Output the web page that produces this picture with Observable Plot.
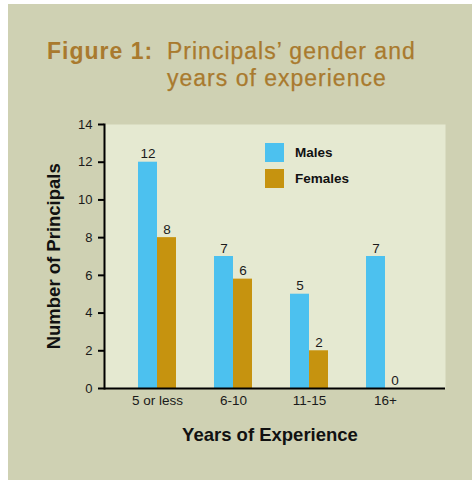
<!DOCTYPE html>
<html>
<head>
<meta charset="utf-8">
<script src="https://cdn.jsdelivr.net/npm/d3@7"></script>
<script src="https://cdn.jsdelivr.net/npm/@observablehq/plot@0.6"></script>
<style>
  body { margin: 0; background: #ffffff; font-family: "Liberation Sans", Arial, Helvetica, sans-serif; }
  #wrap { position: relative; width: 472px; height: 480px; overflow: hidden; }
  #bg { position: absolute; left: 8px; top: 4px; width: 464px; height: 476px; background: #cfd1b3; }
  #chart { position: absolute; left: 0; top: 0; }
  .title { position: absolute; top: 37.5px; font-size: 23px; line-height: 27px; color: #a97a2e; letter-spacing: 1px; white-space: nowrap; }
  #t1 { left: 47px; font-weight: bold; }
  #t2 { left: 167px; -webkit-text-stroke: 0.25px #a97a2e; }
  .axtitle { position: absolute; font-size: 18.5px; line-height: 18.5px; font-weight: bold; color: #111; text-align: center; width: 300px; white-space: nowrap; }
  #ytitle { left: -96px; top: 246.75px; transform: rotate(-90deg); transform-origin: 150px 9.25px; }
  #xtitle { left: 120px; top: 425.5px; }
  .sw { position: absolute; left: 265px; width: 19px; height: 19px; }
  .lg { position: absolute; left: 295px; font-size: 13.5px; line-height: 13.5px; font-weight: bold; color: #111; white-space: nowrap; }
</style>
</head>
<body>
<div id="wrap">
  <div id="bg"></div>
  <div id="chart"></div>
  <div class="title" id="t1">Figure 1:</div>
  <div class="title" id="t2">Principals’ gender and<br>years of experience</div>
  <div class="axtitle" id="ytitle">Number of Principals</div>
  <div class="axtitle" id="xtitle">Years of Experience</div>
  <div id="legend"></div>
</div>
<script>
const categories = ["5 or less", "6-10", "11-15", "16+"];
const seriesNames = ["Males", "Females"];
const seriesColors = ["#4cc1ef", "#c6930f"];
const males = [12, 7, 5, 7];
const females = [8, 5.8, 2, 0];
const maleLabels = ["12", "7", "5", "7"];
const femaleLabels = ["8", "6", "2", "0"];
const yTicks = [0, 2, 4, 6, 8, 10, 12, 14];

const maleRows = categories.map((c, i) => ({category: c, series: "Males", value: males[i], label: maleLabels[i]}));
const femaleRows = categories.map((c, i) => ({category: c, series: "Females", value: females[i], label: femaleLabels[i]}));

const chart = Plot.plot({
  width: 472,
  height: 480,
  marginLeft: 104,
  marginRight: 27,
  marginTop: 124,
  marginBottom: 92,
  style: {background: "transparent", fontFamily: "'Liberation Sans', Arial, sans-serif", color: "#1a1a1a", overflow: "visible"},
  x: {domain: categories, paddingInner: 0.5, paddingOuter: 0, insetLeft: 34, insetRight: 41, axis: null},
  y: {domain: [0, 14], axis: null},
  color: {domain: seriesNames, range: seriesColors},
  marks: [
    Plot.frame({fill: "#e5e9d1", stroke: null}),
    Plot.barY(maleRows, {x: "category", y: "value", fill: "series", insetRight: 19}),
    Plot.barY(femaleRows, {x: "category", y: "value", fill: "series", insetLeft: 19}),
    Plot.text(maleRows, {x: "category", y: "value", text: "label", dx: -9.5, dy: -4, lineAnchor: "bottom", fontSize: 13.5, fill: "#1a1a1a"}),
    Plot.text(femaleRows, {x: "category", y: "value", text: "label", dx: 9.5, dy: -4, lineAnchor: "bottom", fontSize: 13.5, fill: "#1a1a1a"}),
    Plot.axisY({ticks: yTicks, tickSize: 6, tickPadding: 6, fontSize: 13, strokeWidth: 2, stroke: "#000", label: null}),
    Plot.axisX({tickSize: 0, tickPadding: 7, fontSize: 13.5, label: null}),
    Plot.ruleY([0], {stroke: "#000", strokeWidth: 2}),
    Plot.frame({anchor: "left", stroke: "#000", strokeWidth: 2})
  ]
});
document.getElementById("chart").appendChild(chart);

// legend swatches from the same series arrays
const legend = document.getElementById("legend");
const swTops = [143, 169];
seriesNames.forEach((name, i) => {
  const sw = document.createElement("div");
  sw.className = "sw";
  sw.style.top = swTops[i] + "px";
  sw.style.background = seriesColors[i];
  legend.appendChild(sw);
  const lb = document.createElement("div");
  lb.className = "lg";
  lb.style.top = (swTops[i] + 2.5) + "px";
  lb.textContent = name;
  legend.appendChild(lb);
});
</script>
</body>
</html>
